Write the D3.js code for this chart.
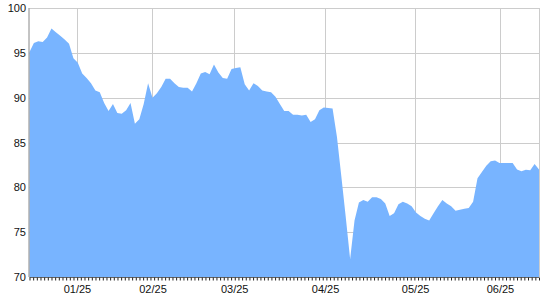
<!DOCTYPE html>
<html><head><meta charset="utf-8">
<script src="https://cdn.jsdelivr.net/npm/d3@7"></script>
<style>body{margin:0;background:#fff}svg{display:block}</style></head>
<body>
<svg id="c" width="540" height="300"></svg>
<script>
const values = [95.1,96.1,96.3,96.2,96.7,97.7,97.3,96.9,96.5,96.0,
94.4,93.9,92.7,92.2,91.6,90.8,90.6,89.4,88.5,89.3,
88.3,88.2,88.6,89.4,87.1,87.6,89.3,91.6,90.0,90.5,
91.2,92.1,92.1,91.6,91.2,91.1,91.1,90.7,91.6,92.7,
92.85,92.6,93.7,92.8,92.2,92.1,93.2,93.3,93.4,91.5,
90.8,91.6,91.3,90.8,90.7,90.6,90.1,89.3,88.5,88.5,
88.1,88.1,88.0,88.1,87.3,87.6,88.6,88.9,88.85,88.8,
85.6,81.2,76.7,72.0,76.3,78.3,78.6,78.4,78.9,78.9,
78.7,78.2,76.8,77.1,78.1,78.4,78.2,77.9,77.2,76.8,
76.5,76.3,77.1,77.9,78.6,78.2,77.9,77.4,77.5,77.6,
77.7,78.4,81.0,81.7,82.4,82.9,83.0,82.7,82.7,82.7,
82.7,82.0,81.8,81.95,81.9,82.6,82.0];
const labelPos = [10.8, 28.0, 46.6, 67.3, 87.8, 107.1];
const labelText = ["01/25","02/25","03/25","04/25","05/25","06/25"];
const yTicks = [70,75,80,85,90,95,100];
const minorTickCount = 139;

const svg = d3.select("#c");
const L = 29.5, R = 539, T = 8, B = 277;
const N = values.length;
const x = d3.scaleLinear().domain([0, N-1]).range([L, R]);
const y = d3.scaleLinear().domain([70, 100]).range([B, T]);
const font = "'Liberation Sans', Arial, sans-serif";

// grid
const g = svg.append("g");
g.selectAll("line.h").data(yTicks.filter(d=>d>70)).enter().append("line")
  .attr("x1", L).attr("x2", R).attr("y1", d=>Math.round(y(d))+0.5).attr("y2", d=>Math.round(y(d))+0.5)
  .attr("stroke", "#cccccc").attr("stroke-width", 1);
g.selectAll("line.v").data(labelPos).enter().append("line")
  .attr("x1", d=>Math.round(x(d))+0.5).attr("x2", d=>Math.round(x(d))+0.5).attr("y1", T).attr("y2", B)
  .attr("stroke", "#cccccc").attr("stroke-width", 1);
g.append("line").attr("x1", R+0.5).attr("x2", R+0.5).attr("y1", T).attr("y2", B)
  .attr("stroke", "#cccccc");

// area
const area = d3.area().x((d,i)=>x(i)).y0(y(70)).y1(d=>y(d));
svg.append("path").datum(values).attr("d", area).attr("fill", "#78b4ff");

// x axis
const minorVals = d3.range(0, minorTickCount+1).map(k => k*(N-1)/minorTickCount);
const xAxisMinor = d3.axisBottom(x).tickValues(minorVals).tickSize(3).tickFormat("");
const gx = svg.append("g").attr("transform", `translate(0,${B+0.5})`).call(xAxisMinor);
gx.select(".domain").attr("stroke", "#666").attr("d", `M${L},0H${R}`);
gx.selectAll(".tick line").attr("stroke", "#222");
const xAxisLab = d3.axisBottom(x).tickValues(labelPos).tickSize(0).tickPadding(8)
  .tickFormat((d,i)=>labelText[i]);
const gx2 = svg.append("g").attr("transform", `translate(0,${B+0.5})`).call(xAxisLab);
gx2.select(".domain").remove();
gx2.selectAll("text").attr("font-family", font).attr("font-size", 11).attr("fill", "#111");

// y axis
const yAxis = d3.axisLeft(y).tickValues(yTicks).tickSize(0).tickPadding(3);
const gy = svg.append("g").attr("transform", `translate(${L-0.5},0)`).call(yAxis);
gy.select(".domain").attr("stroke", "#888").attr("d", `M0,${T}V${B}`);
gy.selectAll("text").attr("font-family", font).attr("font-size", 11).attr("fill", "#111");
</script>
</body></html>
